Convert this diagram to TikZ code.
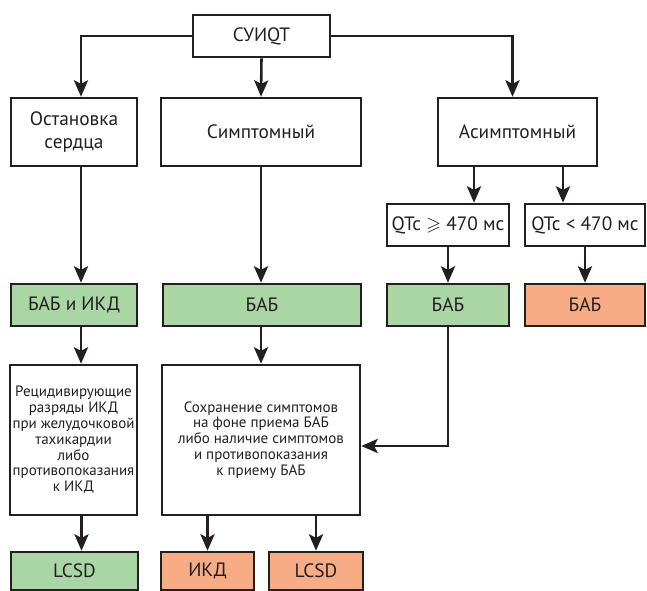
\documentclass[tikz,border=0pt]{standalone}
\usepackage{fontspec}
\usepackage{amssymb}
\setmainfont{PT Sans}
\usetikzlibrary{arrows.meta}

\definecolor{ink}{RGB}{35,31,32}
\definecolor{okgreen}{RGB}{170,214,166}
\definecolor{warnorange}{RGB}{247,172,134}
\def\u{0.03cm}

\tikzset{
  box/.style={draw=ink, line width=2.2pt, text=ink, align=center, inner sep=1pt,
    font=\fontsize{16.5}{19}\selectfont},
  smallbox/.style={box, font=\fontsize{12.8}{13.5}\selectfont},
  green/.style={fill=okgreen},
  orange/.style={fill=warnorange},
  arr/.style={draw=ink, line width=2.2pt, -{Stealth[length=14pt,width=12pt,inset=3pt]}}
}

\begin{document}
\begin{tikzpicture}[x=\u, y=-\u]

    \useasboundingbox (0,0) rectangle (647,590);

    % top row
    \node[box, minimum width=137*\u, minimum height=42*\u] (suiqt) at (261.5,36) {СУИQT};
    \node[box, minimum width=126*\u, minimum height=68*\u] (arrest) at (74,132) {Остановка\\сердца};
    \node[box, minimum width=200*\u, minimum height=68*\u] (sympt) at (261,132) {Симптомный};
    \node[box, minimum width=159*\u, minimum height=68*\u] (asympt) at (517.5,132) {Асимптомный};

    % QTc
    \node[box, minimum width=122*\u, minimum height=42*\u] (qtchigh) at (448,225) {QTc $\geqslant$ 470 мс};
    \node[box, minimum width=120*\u, minimum height=42*\u] (qtclow) at (585,225) {QTc < 470 мс};

    % therapy
    \node[box, green, minimum width=126*\u, minimum height=42*\u] (babicd) at (74,305) {БАБ и ИКД};
    \node[box, green, minimum width=198*\u, minimum height=42*\u] (babsym) at (262,305) {БАБ};
    \node[box, green, minimum width=122*\u, minimum height=42*\u] (babhigh) at (448,305) {БАБ};
    \node[box, orange, minimum width=120*\u, minimum height=42*\u] (bablow) at (585,305) {БАБ};

    % conditions
    \node[smallbox, minimum width=127*\u, minimum height=150*\u] (relapse) at (73.5,440)
      {Рецидивирующие\\разряды ИКД\\при желудочковой\\тахикардии\\либо\\противопоказания\\к ИКД};
    \node[smallbox, minimum width=198*\u, minimum height=150*\u] (persist) at (261,440)
      {Сохранение симптомов\\на фоне приема БАБ\\либо наличие симптомов\\и противопоказания\\к приему БАБ};

    % bottom row
    \node[box, green, minimum width=127*\u, minimum height=38*\u] (lcsdleft) at (74.5,571) {LCSD};
    \node[box, orange, minimum width=93*\u, minimum height=38*\u] (icd) at (207.5,571) {ИКД};
    \node[box, orange, minimum width=94*\u, minimum height=38*\u] (lcsdright) at (316,571) {LCSD};

    % connectors
    \draw[arr] (suiqt.west) -| ([xshift=7*\u]arrest.north);
    \draw[arr] (suiqt.east) -| ([xshift=-5*\u]asympt.north);
    \draw[arr] (suiqt.south) -- (sympt.north);

    \draw[arr] ([xshift=7*\u]arrest.south) -- ([xshift=7*\u]babicd.north);
    \draw[arr] (sympt.south) -- (babsym.north -| sympt.south);
    \draw[arr] ([xshift=-43.5*\u]asympt.south) -- ([xshift=-43.5*\u]asympt.south |- qtchigh.north);
    \draw[arr] ([xshift=45.5*\u]asympt.south) -- ([xshift=45.5*\u]asympt.south |- qtclow.north);
    \draw[arr] (qtchigh.south) -- (babhigh.north);
    \draw[arr] (qtclow.south) -- (bablow.north);

    \draw[arr] ([xshift=7*\u]babicd.south) -- ([xshift=7*\u]babicd.south |- relapse.north);
    \draw[arr] (babsym.south -| persist.north) -- (persist.north);
    \draw[arr] (babhigh.south) |- ([yshift=-6*\u]persist.east);

    \draw[arr] ([xshift=8*\u]relapse.south) -- ([xshift=8*\u]relapse.south |- lcsdleft.north);
    \draw[arr] (persist.south -| icd.north) -- (icd.north);
    \draw[arr] (persist.south -| lcsdright.north) -- (lcsdright.north);

\end{tikzpicture}
\end{document}
